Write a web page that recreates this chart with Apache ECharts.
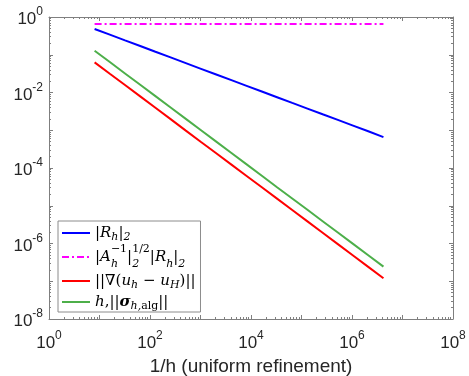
<!DOCTYPE html>
<html>
<head>
<meta charset="utf-8">
<script src="https://cdn.jsdelivr.net/npm/echarts@6/dist/echarts.min.js"></script>
<style>html,body{margin:0;padding:0;background:#fff}#c{width:469px;height:376px}</style>
</head>
<body>
<div id="c"></div>
<script>
// 1/h values (uniform refinement)
var invH = [8, 16, 32, 64, 128, 256, 512, 1024, 2048, 4096, 8192, 16384, 32768, 65536, 131072, 262144, 524288, 1048576, 2097152, 4194304];
// |R_h|_2
var resNorm = [0.48, 0.34, 0.24, 0.17, 0.12, 0.085, 0.06, 0.0424, 0.03, 0.0212, 0.015, 0.0106, 0.0075, 0.0053, 0.00375, 0.00265, 0.00188, 0.00133, 0.00094, 0.00066];
// |A_h^{-1}|_2^{1/2} |R_h|_2
var scaledRes = [0.65, 0.65, 0.65, 0.65, 0.65, 0.65, 0.65, 0.65, 0.65, 0.65, 0.65, 0.65, 0.65, 0.65, 0.65, 0.65, 0.65, 0.65, 0.65, 0.65];
// ||grad(u_h - u_H)||
var gradErr = [0.063, 0.0315, 0.0158, 0.0079, 0.00394, 0.00197, 0.00098, 0.00049, 0.000246, 0.000123, 6.15e-5, 3.08e-5, 1.54e-5, 7.7e-6, 3.85e-6, 1.92e-6, 9.6e-7, 4.8e-7, 2.4e-7, 1.2e-7];
// h ||sigma_{h,alg}||
var sigmaEst = [0.128, 0.064, 0.032, 0.016, 0.008, 0.004, 0.002, 0.001, 0.0005, 0.00025, 0.000125, 6.25e-5, 3.1e-5, 1.56e-5, 7.8e-6, 3.9e-6, 1.95e-6, 9.8e-7, 4.9e-7, 2.44e-7];
var seriesNames = ['s1', 's2', 's3', 's4'];
var legendRich = {
  s1: '|{i|R}{sub|h}|{sub|2}',
  s2: '|{i|A}{subz|h}{sup|−1}|{subz|2}{sup|1/2}|{i|R}{sub|h}|{sub|2}',
  s3: '||∇({i|u}{sub|h} − {i|u}{sub|H})||',
  s4: '{i|h},||{bi|σ}{sub|h,}{subu|alg}||'
};

function pairs(ys){ return invH.map(function(x,i){ return [x, ys[i]]; }); }

var chart = echarts.init(document.getElementById('c'), null, {renderer:'canvas'});
var axisColor = '#7f7f7f';
var serif = 'DejaVu Serif';
function expLabel(v){
  var e = Math.round(Math.log10(v));
  if (e % 2 !== 0) return '';
  return '{b|10}{s|' + e + '}';
}
var labelRich = {
  b: {fontSize: 17, fontFamily: 'Liberation Sans', color: '#262626', lineHeight: 22, verticalAlign: 'bottom'},
  s: {fontSize: 12, fontFamily: 'Liberation Sans', color: '#262626', lineHeight: 22, verticalAlign: 'top'}
};
function logAxis(pos, min, max, show){
  return {
    type: 'log', logBase: 10, min: min, max: max, position: pos,
    axisLine: {show: true, onZero: false, lineStyle: {color: axisColor, width: 1}},
    axisTick: {show: true, inside: true, length: 4, lineStyle: {color: axisColor}},
    minorTick: {show: true, splitNumber: 9, length: 2, lineStyle: {color: axisColor}},
    splitLine: {show: false},
    minorSplitLine: {show: false},
    axisLabel: show ? {show: true, formatter: expLabel, rich: labelRich, margin: 6} : {show: false}
  };
}
var xa0 = logAxis('bottom', 1, 1e8, true);
xa0.name = '1/h (uniform refinement)';
xa0.nameLocation = 'middle';
xa0.nameGap = 37;
xa0.nameTextStyle = {fontSize: 19, fontFamily: 'Liberation Sans', color: '#262626'};
xa0.axisLabel.margin = 11;
var xa1 = logAxis('top', 1, 1e8, false);
var ya0 = logAxis('left', 1e-8, 1, true);
var ya1 = logAxis('right', 1e-8, 1, false);

var colors = ['#0000ff', '#ff00ff', '#ff0000', '#4daf4a'];
var datas = [resNorm, scaledRes, gradErr, sigmaEst];
var series = datas.map(function(d, i){
  return {
    name: seriesNames[i], type: 'line', xAxisIndex: 0, yAxisIndex: 0,
    data: pairs(d), symbol: 'none', showSymbol: false, animation: false,
    lineStyle: {color: colors[i], width: 2, type: i === 1 ? [7, 3, 2, 3] : 'solid'},
    itemStyle: {color: colors[i]}
  };
});

var LH = 20;
chart.setOption({
  animation: false,
  grid: {left: 49, right: 16, top: 17, bottom: 57, containLabel: false, outerBoundsMode: 'none'},
  xAxis: [xa0, xa1],
  yAxis: [ya0, ya1],
  legend: {
    show: true,
    orient: 'vertical', left: 58, top: 221,
    itemWidth: 28, itemHeight: 12, itemGap: 1,
    padding: [2, 5, 0, 3],
    borderColor: '#8c8c8c', borderWidth: 1, backgroundColor: '#fff',
    itemStyle: {color: 'rgba(0,0,0,0)', borderWidth: 0, borderColor: 'rgba(0,0,0,0)'},
    data: seriesNames,
    formatter: function(n){ return legendRich[n]; },
    textStyle: {
      fontSize: 15, fontFamily: serif, color: '#000', lineHeight: LH,
      rich: {
        i: {fontSize: 15, fontFamily: serif, fontStyle: 'italic', color: '#000', lineHeight: LH},
        bi: {fontSize: 15, fontFamily: serif, fontStyle: 'italic', fontWeight: 'bold', color: '#000', lineHeight: LH},
        sub: {fontSize: 11, fontFamily: serif, fontStyle: 'italic', color: '#000', verticalAlign: 'bottom', lineHeight: LH},
        subu: {fontSize: 11, fontFamily: serif, color: '#000', verticalAlign: 'bottom', lineHeight: LH},
        subz: {fontSize: 11, fontFamily: serif, fontStyle: 'italic', color: '#000', verticalAlign: 'bottom', lineHeight: 26, width: 0},
        sup: {fontSize: 11, fontFamily: serif, color: '#000', verticalAlign: 'top', lineHeight: 26}
      }
    }
  },
  series: series
});
</script>
</body>
</html>
